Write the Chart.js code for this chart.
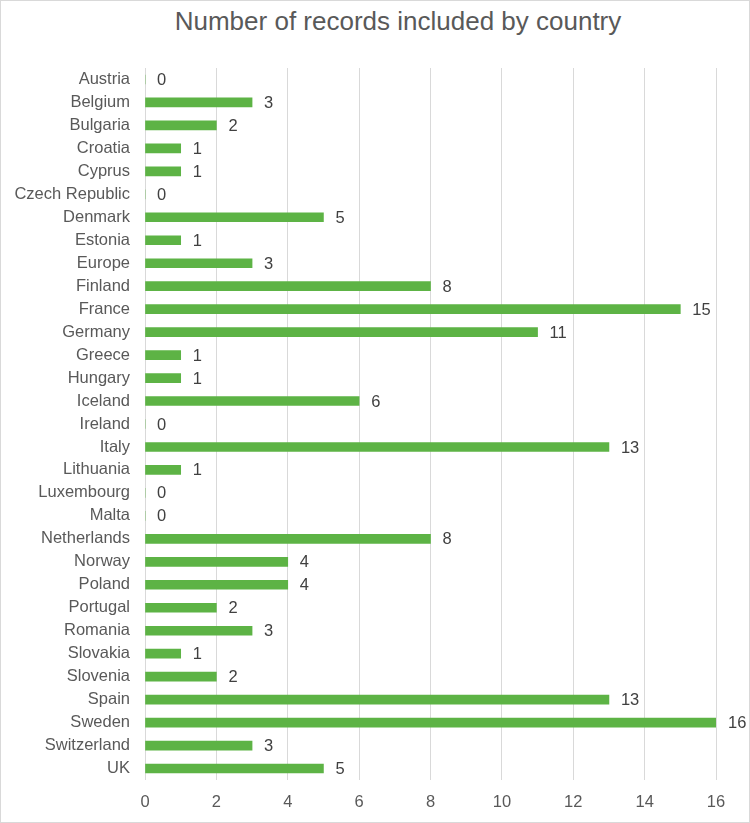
<!DOCTYPE html>
<html>
<head>
<meta charset="utf-8">
<script src="https://cdn.jsdelivr.net/npm/chart.js@4"></script>
<style>
  html, body { margin: 0; padding: 0; background: #fff; }
  #wrap { position: relative; width: 750px; height: 823px; box-sizing: border-box; border: 1px solid #d9d9d9; overflow: hidden; }
  #title { position: absolute; left: 22px; width: 750px; top: 5px; text-align: center; font-family: "Liberation Sans", Arial, sans-serif; font-size: 26px; color: #595959; white-space: nowrap; }
  canvas { position: absolute; left: -1px; top: -1px; }
</style>
</head>
<body>
<div id="wrap">
  <div id="title">Number of records included by country</div>
  <canvas id="c" width="750" height="823"></canvas>
</div>
<script>
const categories = ["Austria","Belgium","Bulgaria","Croatia","Cyprus","Czech Republic","Denmark","Estonia","Europe","Finland","France","Germany","Greece","Hungary","Iceland","Ireland","Italy","Lithuania","Luxembourg","Malta","Netherlands","Norway","Poland","Portugal","Romania","Slovakia","Slovenia","Spain","Sweden","Switzerland","UK"];
const records = [0,3,2,1,1,0,5,1,3,8,15,11,1,1,6,0,13,1,0,0,8,4,4,2,3,1,2,13,16,3,5];
const xTicks = [0,2,4,6,8,10,12,14,16];

const FONT = "'Liberation Sans', Arial, sans-serif";
const FS = 16.5;

const valueLabels = {
  id: 'valueLabels',
  afterDatasetsDraw(chart) {
    const ctx = chart.ctx;
    const meta = chart.getDatasetMeta(0);
    ctx.save();
    ctx.font = FS + "px " + FONT;
    ctx.fillStyle = "#404040";
    ctx.textAlign = "left";
    ctx.textBaseline = "middle";
    meta.data.forEach((bar, i) => {
      ctx.fillText(String(records[i]), bar.x + 12, bar.y + 1);
    });
    ctx.restore();
  }
};

new Chart(document.getElementById('c'), {
  type: 'bar',
  data: {
    labels: categories,
    datasets: [{
      data: records,
      backgroundColor: '#5db345',
      borderWidth: 0,
      barThickness: 9
    }]
  },
  options: {
    indexAxis: 'y',
    responsive: false,
    animation: false,
    layout: { padding: { top: 68, right: 34, left: 0, bottom: 0 } },
    plugins: { legend: { display: false }, tooltip: { enabled: false }, title: { display: false } },
    scales: {
      x: {
        min: 0, max: 16,
        afterBuildTicks(scale) { scale.ticks = xTicks.map(v => ({ value: v })); },
        afterFit(scale) { scale.height = 43; },
        grid: { color: '#d9d9d9', lineWidth: 1, drawTicks: false },
        border: { display: false },
        ticks: { padding: 13, color: '#595959', font: { family: FONT, size: FS } }
      },
      y: {
        afterFit(scale) { scale.width = 145; },
        grid: { display: false, drawTicks: false },
        border: { display: false },
        ticks: { padding: 15, color: '#595959', font: { family: FONT, size: FS }, autoSkip: false }
      }
    }
  },
  plugins: [valueLabels]
});
</script>
</body>
</html>
